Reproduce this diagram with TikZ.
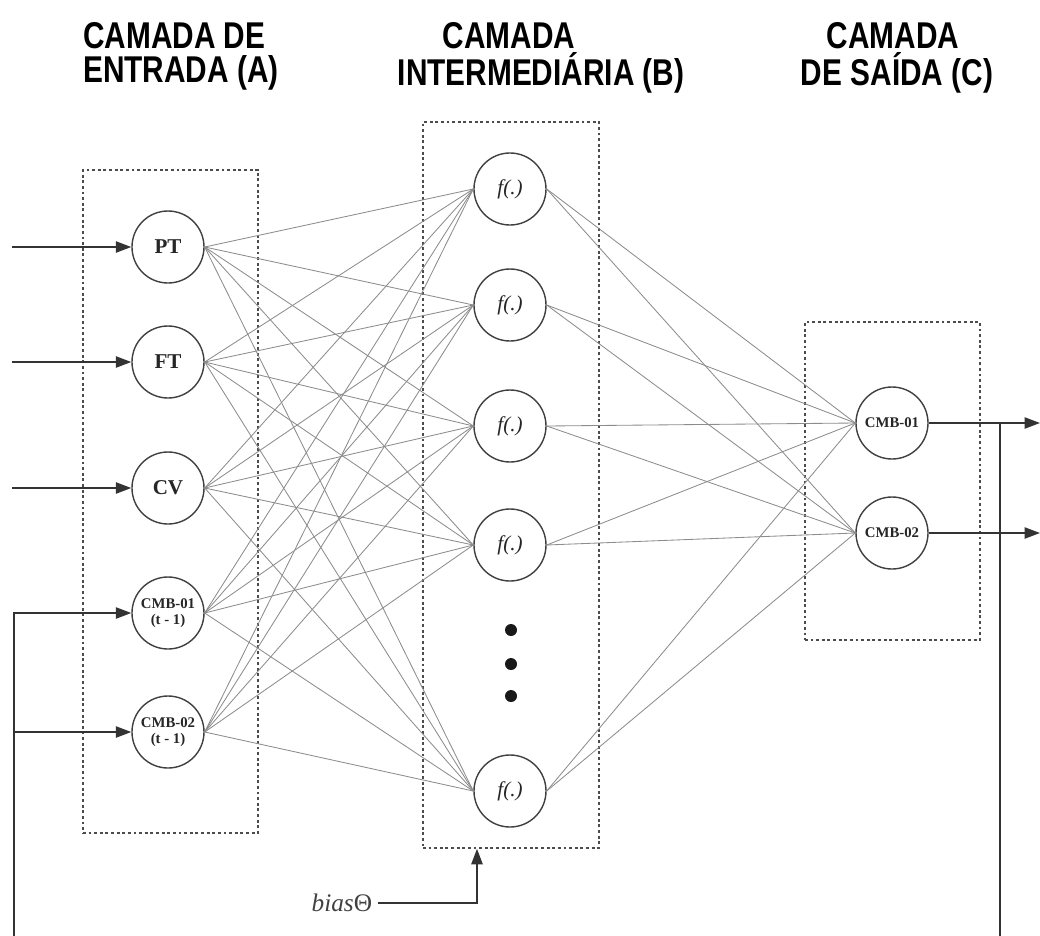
\documentclass[tikz,border=0pt]{standalone}
\usepackage{fontspec}
\setmainfont{Liberation Serif}
\newfontfamily\headfont[FakeStretch=0.8]{Liberation Sans}
\usetikzlibrary{arrows.meta}

\begin{document}
\begin{tikzpicture}[x=0.025cm,y=-0.025cm,
  neuron/.style={circle,draw=black!75,line width=1pt,minimum size=1.8cm,inner sep=0pt,text=black!85,fill=white},
  layerbox/.style={draw=black!70,line width=1pt,dash pattern=on 2pt off 2pt,inner sep=0pt},
  link/.style={draw=black!45,line width=0.6pt},
  signal/.style={draw=black!80,line width=1.2pt},
  arrowed/.style={-{Triangle[length=11pt,width=8pt]}},
  head/.style={font=\headfont\bfseries\fontsize{26.5}{28}\selectfont,inner sep=0pt},
  lbl/.style={font=\bfseries\fontsize{15}{17}\selectfont},
  lblsmall/.style={font=\bfseries\fontsize{10.5}{11.5}\selectfont,align=center},
  fn/.style={font=\itshape\fontsize{15}{17}\selectfont}]

\useasboundingbox (0,0) rectangle (1040,935);
\clip (0,0) rectangle (1040,935);

% layer titles
\node[head,anchor=west] (ha1) at (83,36) {CAMADA DE};
\node[head,anchor=west] (ha2) at (83,73) {ENTRADA (A)};
\node[head] (hb1) at (509,36) {CAMADA};
\node[head] (hb2) at (541,73) {INTERMEDIÁRIA (B)};
\node[head] (hc1) at (893,36) {CAMADA};
\node[head] (hc2) at (897,73) {DE SAÍDA (C)};

% dashed layer frames
\node[layerbox,minimum width=4.375cm,minimum height=16.575cm] (abox) at (170.5,501.5) {};
\node[layerbox,minimum width=4.4cm,minimum height=18.15cm] (hbox) at (511,485) {};
\node[layerbox,minimum width=4.375cm,minimum height=7.95cm] (cbox) at (892.5,481) {};

% input layer
\node[neuron,lbl] (in1) at (168,247) {PT};
\node[neuron,lbl] (in2) at (168,362) {FT};
\node[neuron,lbl] (in3) at (168,488) {CV};
\node[neuron,lblsmall] (in4) at (168,613) {CMB-01\\(t - 1)};
\node[neuron,lblsmall] (in5) at (168,732) {CMB-02\\(t - 1)};

% hidden layer
\node[neuron,fn] (h1) at (510,189) {f(.)};
\node[neuron,fn] (h2) at (510,305) {f(.)};
\node[neuron,fn] (h3) at (510,426) {f(.)};
\node[neuron,fn] (h4) at (510,545) {f(.)};
\node[neuron,fn] (h5) at (510,791) {f(.)};
\fill[black!90] (511,630) circle[radius=0.15cm];
\fill[black!90] (511,664) circle[radius=0.15cm];
\fill[black!90] (511,696) circle[radius=0.15cm];

% output layer
\node[neuron,lblsmall] (o1) at (892,423) {CMB-01};
\node[neuron,lblsmall] (o2) at (892,533) {CMB-02};

% weighted connections
\foreach \i in {1,...,5}
  \foreach \j in {1,...,5}
    \draw[link] (in\i.east) -- (h\j.west);
\foreach \j in {1,...,5}
  \foreach \k in {1,2}
    \draw[link] (h\j.east) -- (o\k.west);

% external inputs
\coordinate (s1) at (12,247);
\coordinate (s2) at (12,362);
\coordinate (s3) at (12,488);
\draw[signal,arrowed] (s1) -- (in1.west);
\draw[signal,arrowed] (s2) -- (in2.west);
\draw[signal,arrowed] (s3) -- (in3.west);

% outputs
\coordinate (e1) at (1040,423);
\coordinate (e2) at (1040,533);
\draw[signal,arrowed] (o1.east) -- (e1);
\draw[signal,arrowed] (o2.east) -- (e2);

% delayed feedback of the outputs
\coordinate (fb) at (1000,423);
\coordinate (fbl) at (14,950);
\draw[signal,arrowed] (fb) |- (fbl) |- (in4.west);
\draw[signal,arrowed] (fbl |- in5.west) -- (in5.west);

% bias
\node[font=\fontsize{18}{20}\selectfont,text=black!75,anchor=east,inner sep=4pt] (bias) at (378,903) {\textit{bias}Θ};
\coordinate (bc) at (477,903);
\draw[signal,arrowed] (bias.east) -- (bc) -- (bc |- hbox.south);
\end{tikzpicture}
\end{document}
